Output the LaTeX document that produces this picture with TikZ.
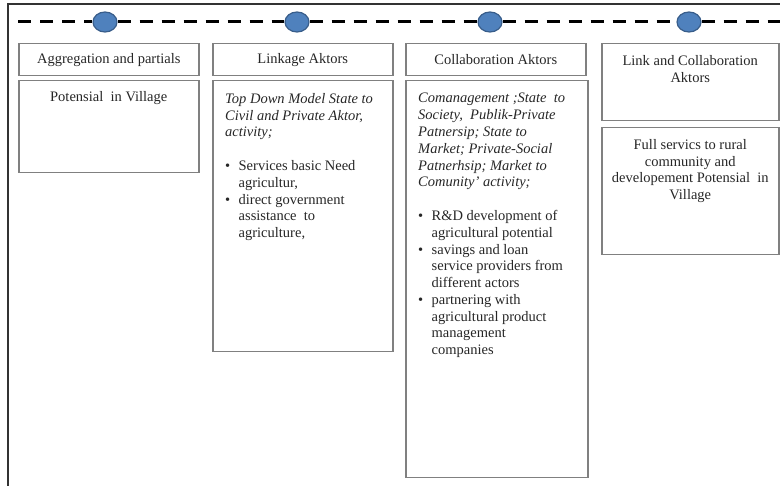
\documentclass[tikz,border=0pt]{standalone}
\usepackage{fontspec}
\setmainfont{Liberation Serif}
\usetikzlibrary{positioning,shapes.geometric}
\definecolor{dotblue}{HTML}{4F81BD}
\definecolor{dotedge}{HTML}{385D8A}
\newcommand{\bl}{\makebox[13.5pt][l]{\textbullet}}
\newcommand{\ind}{\hspace*{13.5pt}}

\begin{document}
\begin{tikzpicture}[x=1pt,y=-1pt,
  box/.style={draw=black!50,line width=1.5pt,anchor=north west,inner sep=0pt},
  txt/.style={inner sep=0pt,text=black!85,font=\fontsize{14.5}{16.8}\selectfont},
  dot/.style={ellipse,draw=dotedge,fill=dotblue,line width=1.2pt,minimum width=24pt,minimum height=20pt,inner sep=0pt},
  dline/.style={line width=3pt,dash pattern=on 13pt off 9pt}]
\useasboundingbox (0,0) rectangle (780,486);
\draw[line width=1.6pt,black!80] (8,486) -- (8,4) -- (782,4);

% time line with the four stages
\coordinate (ls) at (18,22);
\coordinate (le) at (784,22);
\node[dot] (d1) at (105,22) {};
\node[dot] (d2) at (297,22) {};
\node[dot] (d3) at (490,22) {};
\node[dot] (d4) at (689,22) {};
\draw[dline] (ls) -- (d1) -- (d2) -- (d3) -- (d4) -- (le);

% headers
\node[box,txt,minimum width=180pt,minimum height=32pt] (h1) at (18,43) {Aggregation and partials};
\node[box,txt,minimum width=180pt,minimum height=32pt] (h2) at (212,43) {Linkage Aktors};
\node[box,txt,minimum width=180pt,minimum height=32pt] (h3) at (405,43) {Collaboration Aktors};
\node[box,minimum width=177pt,minimum height=77pt] (h4) at (601,43) {};
\node[txt,align=center,below=12pt of h4.north] (t4) {Link and Collaboration\\Aktors};

% bodies
\node[box,minimum width=180pt,minimum height=92pt] (b1) at (18,80) {};
\node[txt,below=11pt of b1.north] (s1) {Potensial \ in Village};

\node[box,minimum width=180pt,minimum height=271pt] (b2) at (212,80) {};
\node[txt,align=left,below right=13pt and 13pt of b2.north west] (s2)
  {\itshape Top Down Model State to\\\itshape Civil and Private Aktor,\\\itshape activity;\\[16.8pt]
   \bl Services basic Need\\\ind agricultur,\\
   \bl direct government\\\ind assistance \ to\\\ind agriculture,};

\node[box,minimum width=182pt,minimum height=397pt] (b3) at (405,80) {};
\node[txt,align=left,below right=13pt and 13pt of b3.north west] (s3)
  {\itshape Comanagement ;State \ to\\\itshape Society, \ Publik-Private\\\itshape Patnersip; State to\\
   \itshape Market; Private-Social\\\itshape Patnerhsip; Market to\\\itshape Comunity' activity;\\[16.8pt]
   \bl R\&D development of\\\ind agricultural potential\\
   \bl savings and loan\\\ind service providers from\\\ind different actors\\
   \bl partnering with\\\ind agricultural product\\\ind management\\\ind companies};

\node[box,minimum width=177pt,minimum height=127pt] (b4) at (601,127) {};
\node[txt,align=center,below=12pt of b4.north] (s4)
  {Full servics to rural\\community and\\developement Potensial \ in\\Village};

\end{tikzpicture}
\end{document}
